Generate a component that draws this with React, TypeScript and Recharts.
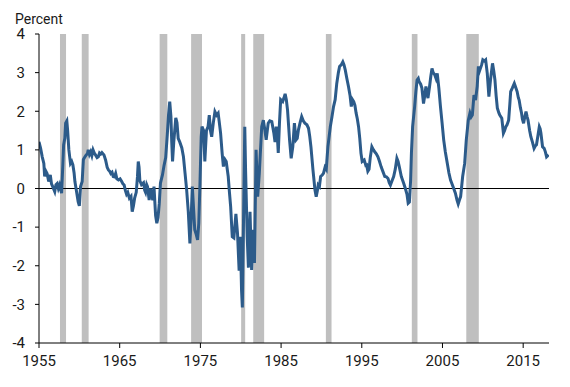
import { LineChart, Line, XAxis, YAxis, ReferenceArea, ReferenceLine } from 'recharts';

// [year, percent], split by decade
const seg1955: [number, number][] = [
  [1955.0, 1.21], [1955.2, 1.04], [1955.4, 0.82], [1955.6, 0.65], [1955.7, 0.31], [1955.85, 0.45],
  [1956.0, 0.39], [1956.2, 0.18], [1956.4, 0.35], [1956.55, 0.12], [1956.7, 0.05], [1956.95, -0.08],
  [1957.1, 0.1], [1957.25, 0.13], [1957.4, 0.0], [1957.55, 0.09], [1957.7, -0.05], [1957.8, -0.12],
  [1957.95, 0.6], [1958.05, 1.13], [1958.2, 1.3], [1958.3, 1.69], [1958.45, 1.75], [1958.55, 1.5],
  [1958.7, 1.0], [1958.9, 0.65], [1959.05, 0.7], [1959.2, 0.61], [1959.35, 0.4], [1959.45, 0.18],
  [1959.65, -0.08], [1959.85, -0.34], [1960.0, -0.45], [1960.15, 0.05], [1960.35, 0.18], [1960.5, 0.75],
  [1960.7, 0.82], [1960.85, 0.87], [1961.0, 0.9], [1961.1, 1.0], [1961.25, 0.88], [1961.4, 0.95],
  [1961.55, 0.85], [1961.7, 1.0], [1961.85, 0.92], [1962.0, 0.87], [1962.2, 0.8], [1962.35, 0.82],
  [1962.5, 0.92], [1962.65, 0.89], [1962.8, 0.93], [1963.05, 0.87], [1963.25, 0.74], [1963.45, 0.55],
  [1963.6, 0.48], [1963.75, 0.45], [1963.9, 0.39], [1964.05, 0.42], [1964.2, 0.31], [1964.35, 0.3],
  [1964.5, 0.39], [1964.65, 0.25], [1964.85, 0.22],
];

const seg1965: [number, number][] = [
  [1965.05, 0.25], [1965.25, 0.18], [1965.4, 0.12], [1965.55, 0.09], [1965.7, -0.05], [1965.85, -0.15],
  [1966.0, -0.1], [1966.2, -0.25], [1966.4, -0.2], [1966.55, -0.6], [1966.7, -0.45], [1966.85, -0.25],
  [1967.05, -0.1], [1967.2, 0.3], [1967.3, 0.7], [1967.4, 0.55], [1967.5, 0.2], [1967.7, 0.1],
  [1967.95, 0.15], [1968.1, -0.05], [1968.2, -0.1], [1968.35, 0.1], [1968.45, 0.05], [1968.65, -0.3],
  [1968.8, 0.0], [1968.9, -0.1], [1969.1, -0.3], [1969.25, 0.05], [1969.45, -0.7], [1969.6, -0.9],
  [1969.75, -0.75], [1969.9, -0.4], [1970.05, 0.14], [1970.3, 0.35], [1970.5, 0.6], [1970.7, 0.8],
  [1970.9, 1.4], [1971.05, 1.9], [1971.2, 2.25], [1971.35, 1.86], [1971.45, 1.2], [1971.55, 0.7],
  [1971.7, 1.2], [1971.8, 1.45], [1971.95, 1.83], [1972.1, 1.7], [1972.25, 1.3], [1972.45, 1.2],
  [1972.7, 1.05], [1972.9, 0.82], [1973.1, 0.39], [1973.3, -0.04], [1973.5, -0.6], [1973.7, -1.42],
  [1973.85, -0.8], [1974.0, 0.05], [1974.15, -0.5], [1974.3, -1.07], [1974.5, -1.2], [1974.65, -1.33],
  [1974.8, -0.9], [1974.95, 0.14],
];

const seg1975: [number, number][] = [
  [1975.1, 1.34], [1975.2, 1.6], [1975.4, 1.5], [1975.55, 0.7], [1975.75, 1.5], [1975.95, 1.6],
  [1976.1, 1.9], [1976.25, 1.5], [1976.4, 1.34], [1976.6, 1.7], [1976.8, 1.99], [1977.0, 1.9],
  [1977.2, 1.95], [1977.35, 1.7], [1977.5, 1.44], [1977.7, 0.9], [1977.85, 0.57], [1978.05, 0.75],
  [1978.2, 0.7], [1978.45, 0.31], [1978.6, -0.1], [1978.75, -0.47], [1978.95, -1.25], [1979.15, -1.28],
  [1979.3, -0.9], [1979.4, -0.66], [1979.6, -1.16], [1979.8, -2.13], [1979.95, -1.25], [1980.1, -2.63],
  [1980.2, -3.08], [1980.35, -0.73], [1980.5, 1.6], [1980.6, 0.48], [1980.8, -1.25], [1980.95, -2.05],
  [1981.15, -0.6], [1981.35, -2.11], [1981.55, -1.07], [1981.7, -1.93], [1981.9, 1.0], [1982.1, -0.21],
  [1982.3, 0.39], [1982.45, 1.0], [1982.6, 1.6], [1982.8, 1.77], [1983.0, 1.5], [1983.15, 1.26],
  [1983.4, 1.69], [1983.6, 1.75], [1983.85, 1.73], [1984.1, 1.44], [1984.25, 1.2], [1984.4, 1.6],
  [1984.55, 1.3], [1984.65, 0.92], [1984.8, 1.7], [1984.95, 2.3],
];

const seg1985: [number, number][] = [
  [1985.2, 2.25], [1985.35, 2.34], [1985.5, 2.45], [1985.65, 2.3], [1985.8, 2.03], [1986.05, 1.26],
  [1986.25, 0.78], [1986.45, 1.08], [1986.65, 1.69], [1986.85, 1.26], [1987.0, 1.3], [1987.15, 1.52],
  [1987.35, 1.7], [1987.55, 1.86], [1987.75, 1.75], [1987.95, 1.69], [1988.2, 1.65], [1988.4, 1.56],
  [1988.55, 1.35], [1988.7, 1.08], [1988.95, 0.48], [1989.2, -0.04], [1989.35, -0.21], [1989.5, -0.05],
  [1989.6, 0.09], [1989.75, 0.05], [1989.9, 0.31], [1990.1, 0.35], [1990.25, 0.39], [1990.45, 0.55],
  [1990.6, 0.5], [1990.8, 1.08], [1991.1, 1.6], [1991.3, 1.85], [1991.5, 2.12], [1991.7, 2.3],
  [1991.9, 2.72], [1992.1, 3.0], [1992.25, 3.16], [1992.45, 3.2], [1992.65, 3.28], [1992.8, 3.2],
  [1992.95, 3.07], [1993.15, 2.85], [1993.35, 2.64], [1993.55, 2.4], [1993.7, 2.12], [1993.85, 2.3],
  [1994.0, 2.25], [1994.15, 2.15], [1994.3, 1.95], [1994.45, 1.8], [1994.6, 1.6], [1994.75, 1.3],
  [1994.9, 0.91],
];

const seg1995: [number, number][] = [
  [1995.05, 0.7], [1995.3, 0.74], [1995.5, 0.6], [1995.6, 0.61], [1995.75, 0.45], [1995.9, 0.5],
  [1996.05, 0.8], [1996.25, 1.08], [1996.45, 1.0], [1996.6, 0.95], [1996.8, 0.9], [1997.0, 0.82],
  [1997.2, 0.7], [1997.4, 0.56], [1997.6, 0.45], [1997.85, 0.31], [1998.05, 0.3], [1998.25, 0.26],
  [1998.4, 0.15], [1998.55, 0.09], [1998.75, 0.2], [1998.95, 0.31], [1999.15, 0.5], [1999.35, 0.78],
  [1999.5, 0.7], [1999.65, 0.56], [1999.9, 0.31], [2000.2, 0.13], [2000.4, 0.0], [2000.6, -0.15],
  [2000.75, -0.38], [2000.9, -0.35], [2001.05, 0.2], [2001.15, 0.91], [2001.3, 1.6], [2001.55, 2.12],
  [2001.7, 2.5], [2001.85, 2.81], [2002.0, 2.85], [2002.1, 2.77], [2002.3, 2.7], [2002.45, 2.6],
  [2002.65, 2.2], [2002.8, 2.4], [2002.95, 2.64], [2003.2, 2.34], [2003.4, 2.64], [2003.55, 2.9],
  [2003.7, 3.11], [2003.85, 3.0], [2004.05, 2.94], [2004.2, 2.85], [2004.35, 2.98], [2004.55, 2.6],
  [2004.75, 2.12], [2004.95, 1.7],
];

const seg2005: [number, number][] = [
  [2005.15, 1.26], [2005.35, 0.95], [2005.6, 0.65], [2005.8, 0.4], [2006.0, 0.22], [2006.3, 0.05],
  [2006.6, -0.12], [2006.8, -0.3], [2006.95, -0.4], [2007.1, -0.3], [2007.25, -0.21], [2007.5, 0.31],
  [2007.75, 0.65], [2007.95, 1.26], [2008.2, 1.77], [2008.4, 1.95], [2008.55, 1.85], [2008.7, 1.9],
  [2008.9, 2.42], [2009.1, 2.29], [2009.3, 2.64], [2009.45, 3.16], [2009.6, 3.05], [2009.7, 3.11],
  [2009.85, 3.2], [2010.0, 3.33], [2010.2, 3.3], [2010.35, 3.33], [2010.55, 2.98], [2010.75, 2.38],
  [2010.95, 2.81], [2011.2, 3.24], [2011.35, 3.05], [2011.5, 2.81], [2011.65, 2.4], [2011.8, 2.08],
  [2012.0, 1.95], [2012.1, 1.9], [2012.35, 1.82], [2012.55, 1.43], [2012.7, 1.5], [2012.85, 1.6],
  [2013.0, 1.65], [2013.2, 1.77], [2013.35, 2.2], [2013.45, 2.51], [2013.65, 2.6], [2013.9, 2.72],
  [2014.1, 2.6], [2014.25, 2.51], [2014.4, 2.35], [2014.5, 2.29], [2014.65, 2.1], [2014.8, 1.95],
  [2014.9, 1.8], [2015.05, 1.69], [2015.2, 1.85], [2015.35, 1.99], [2015.5, 1.85], [2015.6, 1.77],
  [2015.8, 1.5], [2015.95, 1.34], [2016.15, 1.2], [2016.35, 1.04], [2016.5, 1.1], [2016.65, 1.13],
  [2016.85, 1.4], [2017.0, 1.6], [2017.1, 1.55], [2017.2, 1.43], [2017.4, 1.08], [2017.6, 1.04],
  [2017.75, 0.95], [2017.9, 0.82], [2018.05, 0.85], [2018.15, 0.87],
];

const recessions: [number, number][] = [
  [1957.6, 1958.35], [1960.3, 1961.15], [1969.95, 1970.9], [1973.85, 1975.2], [1980.05, 1980.55],
  [1981.55, 1982.9], [1990.55, 1991.25], [2001.2, 2001.9], [2007.95, 2009.5],
];

const xTicks = [1955, 1965, 1975, 1985, 1995, 2005, 2015];
const yTicks = [-4, -3, -2, -1, 0, 1, 2, 3, 4];

const data = [...seg1955, ...seg1965, ...seg1975, ...seg1985, ...seg1995, ...seg2005].map(([year, value]) => ({
  year,
  value,
}));

const FONT = 'Roboto, "Noto Sans", sans-serif';
const TEXT = '#1a1a1a';

export default function App() {
  return (
    <div style={{ position: 'relative', width: 570, height: 387, fontFamily: FONT }}>
      <style>{'body{margin:0}'}</style>
      <div style={{ position: 'absolute', left: 15, top: 12, fontSize: 14, lineHeight: '14px', color: TEXT }}>
        Percent
      </div>
      <LineChart width={570} height={387} data={data} margin={{ top: 34, right: 21, bottom: 0, left: 0 }}>
        {recessions.map(([a, b]) => (
          <ReferenceArea key={a} x1={a} x2={b} y1={-4} y2={4} fill="#bfbfbf" fillOpacity={1} stroke="none" />
        ))}
        <XAxis
          dataKey="year"
          type="number"
          domain={[1955, 2018.2]}
          ticks={xTicks}
          allowDataOverflow
          height={44}
          stroke="#000"
          tickSize={5}
          tickMargin={7}
          tick={{ fontSize: 15, fill: TEXT, fontFamily: FONT }}
        />
        <YAxis
          type="number"
          domain={[-4, 4]}
          ticks={yTicks}
          width={39}
          stroke="#000"
          tickSize={4}
          tickMargin={10}
          tick={{ fontSize: 15, fill: TEXT, fontFamily: FONT }}
        />
        <ReferenceLine y={0} stroke="#000" strokeWidth={1} />
        <Line
          type="linear"
          dataKey="value"
          stroke="#2c5b8a"
          strokeWidth={3}
          dot={false}
          isAnimationActive={false}
        />
      </LineChart>
    </div>
  );
}
